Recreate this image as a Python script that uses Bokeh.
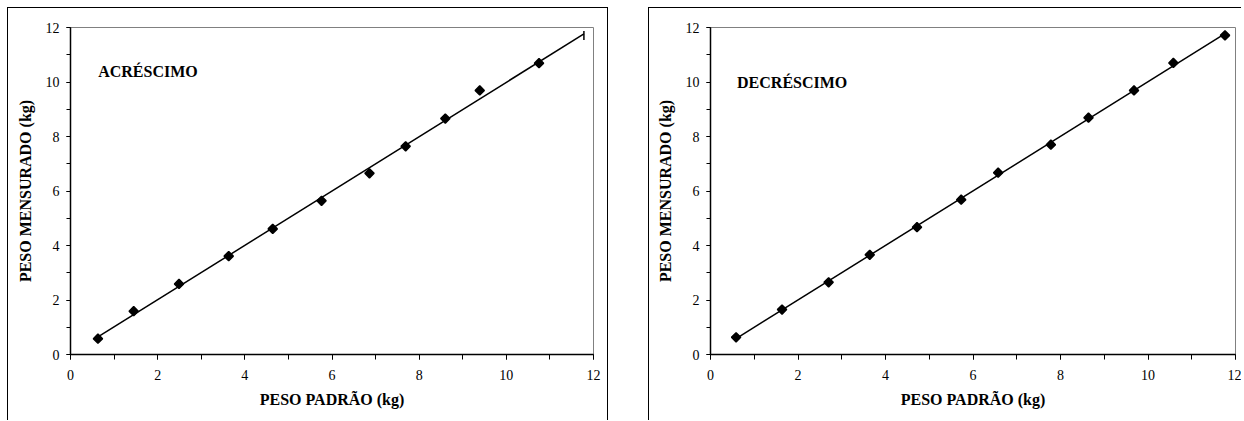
import numpy as np
from bokeh.plotting import figure
from bokeh.models import ColumnDataSource, SingleIntervalTicker, Label, Range1d
from bokeh.layouts import row
from bokeh.embed import file_html
from bokeh.resources import INLINE

# ---- data ----
acr_x = [0.63, 1.45, 2.49, 3.63, 4.64, 5.76, 6.86, 7.69, 8.60, 9.39, 10.75, 11.78]
acr_y = [0.58, 1.59, 2.59, 3.61, 4.61, 5.64, 6.65, 7.64, 8.66, 9.69, 10.69, 11.71]
dec_x = [0.585, 1.635, 2.70, 3.64, 4.72, 5.73, 6.575, 7.78, 8.64, 9.68, 10.58, 11.76]
dec_y = [0.63, 1.65, 2.65, 3.66, 4.67, 5.68, 6.67, 7.70, 8.69, 9.69, 10.70, 11.71]
x_title = "PESO PADRÃO (kg)"
y_title = "PESO MENSURADO (kg)"
labels = ["ACRÉSCIMO", "DECRÉSCIMO"]

FONT = "'Liberation Serif', 'Times New Roman', serif"


def make_chart(xs, ys, name, lx, ly, last_dash, width, left, right, margin, styles):
    p = figure(width=width, height=413, x_range=Range1d(0, 12), y_range=Range1d(0, 12),
               output_backend="svg", toolbar_location=None,
               min_border_left=left, min_border_right=right,
               min_border_top=19, min_border_bottom=67,
               background_fill_color="white", border_fill_color="white")
    p.margin = margin
    p.styles = styles
    p.grid.visible = False
    p.outline_line_color = "#808080"
    p.outline_line_width = 1

    for ax, tick_out, lab_standoff, title_standoff in ((p.xaxis[0], 5, 10, 8), (p.yaxis[0], 4, 7, 9)):
        ax.ticker = SingleIntervalTicker(interval=2, num_minor_ticks=2)
        ax.axis_line_color = "black"
        ax.axis_line_width = 1.5
        ax.major_tick_line_color = "black"
        ax.minor_tick_line_color = "black"
        ax.major_tick_in = 0
        ax.major_tick_out = tick_out
        ax.minor_tick_in = 0
        ax.minor_tick_out = tick_out
        ax.major_label_text_font = FONT
        ax.major_label_text_font_size = "14px"
        ax.major_label_text_color = "black"
        ax.major_label_standoff = lab_standoff
        ax.axis_label_text_font = FONT
        ax.axis_label_text_font_size = "16px"
        ax.axis_label_text_font_style = "bold"
        ax.axis_label_text_color = "black"
        ax.axis_label_standoff = title_standoff
    p.xaxis.axis_label = x_title
    p.yaxis.axis_label = y_title

    # trend line (least squares through the points, spanning the data range)
    k, b = np.polyfit(xs, ys, 1)
    tx = [min(xs), max(xs)]
    ty = [k * v + b for v in tx]
    p.line(tx, ty, line_color="black", line_width=1.5)

    n = len(xs)
    markers = ["square"] * n
    angles = [np.pi / 4] * n
    sizes = [6.5] * n
    if last_dash:
        markers[-1] = "dash"
        angles[-1] = np.pi / 2
        sizes[-1] = 9
    src = ColumnDataSource(dict(x=xs, y=ys, marker=markers, angle=angles, size=sizes))
    p.scatter("x", "y", source=src, marker="marker", angle="angle", size="size",
              fill_color="black", line_color="black", line_width=1.5)

    p.add_layout(Label(x=lx, y=ly, text=name, text_font=FONT, text_font_size="16px",
                       text_font_style="bold", text_color="black", text_baseline="alphabetic"))
    return p


p1 = make_chart(acr_x, acr_y, labels[0], 0.635, 10.39, True, 601, 62, 16,
                (7, 0, 0, 7), {"border": "1px solid black", "border-bottom": "none"})
p2 = make_chart(dec_x, dec_y, labels[1], 0.607, 9.98, False, 593, 61, 7,
                (7, 0, 0, 40), {"border": "1px solid black", "border-bottom": "none",
                                "border-right": "none"})

layout = row(p1, p2)
open("out.html", "w").write(file_html(layout, INLINE))
